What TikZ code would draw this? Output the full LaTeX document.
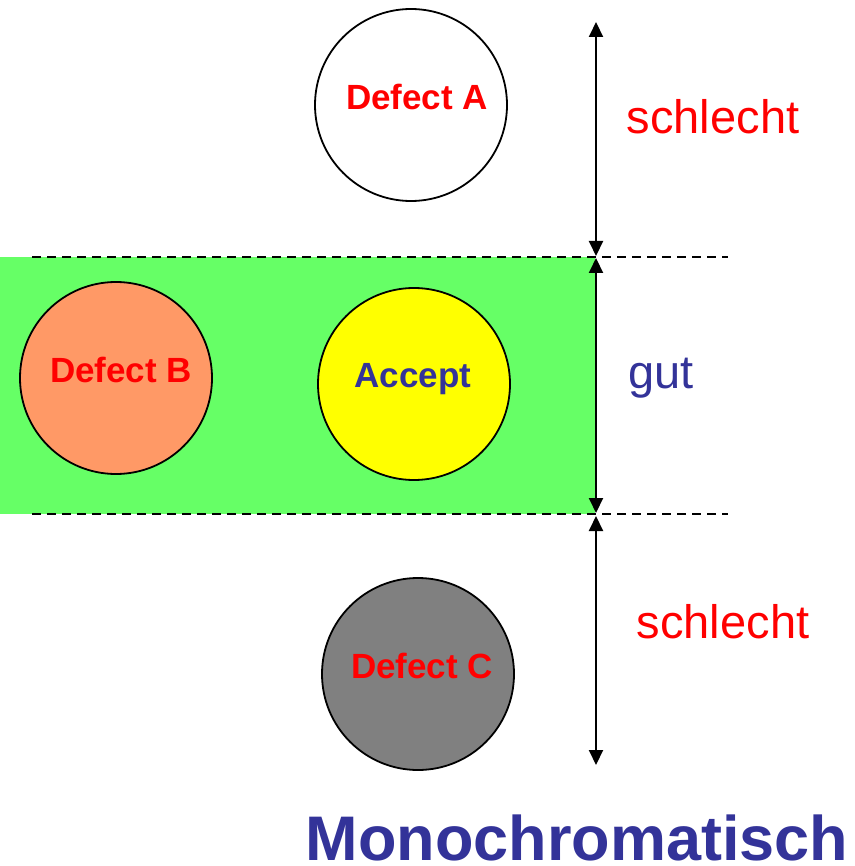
\documentclass[tikz,border=0pt]{standalone}
\usepackage{fontspec}
\setmainfont{Liberation Sans}
\usepackage{xcolor}
\usetikzlibrary{arrows.meta}

\definecolor{okgreen}{HTML}{66FF66}
\definecolor{salmon}{HTML}{FF9966}
\definecolor{navy}{HTML}{333399}
\definecolor{midgray}{HTML}{808080}
\definecolor{pureyellow}{HTML}{FFFF00}

\begin{document}
\begin{tikzpicture}[x=1pt,y=-1pt,
    defect/.style={circle,draw=black,line width=1.8pt,minimum size=192pt,inner sep=0pt},
    tag/.style={anchor=base,font=\fontsize{35}{40}\selectfont\bfseries},
    verdict/.style={anchor=base,font=\fontsize{47}{52}\selectfont},
    span/.style={line width=2pt,{Triangle[length=15pt,width=14pt]}-{Triangle[length=15pt,width=14pt]}},
    limit/.style={line width=1.5pt,dash pattern=on 9pt off 6pt}]
        \useasboundingbox (0,0) rectangle (854,866);
        % accepted band
        \fill[okgreen] (0,257) rectangle (595,514);
        \draw[limit] (32,257) -- (728,257);
        \draw[limit] (32,514) -- (728,514);

        \node[defect,fill=white] (defA) at (411,105) {};
        \node[defect,fill=salmon] (defB) at (116,378) {};
        \node[defect,fill=pureyellow] (accept) at (414,384) {};
        \node[defect,fill=midgray] (defC) at (418,674) {};

        \node[tag,red] (labA) at (417,110) {Defect A};
        \node[tag,red] (labB) at (121,382) {Defect B};
        \node[tag,navy] (labAcc) at (413,387) {Accept};
        \node[tag,red] (labC) at (422,678) {Defect C};

        % tolerance arrows
        \coordinate (t1) at (596,22);
        \coordinate (b1) at (596,256);
        \coordinate (t2) at (596,258);
        \coordinate (b2) at (596,513);
        \coordinate (t3) at (596,516);
        \coordinate (b3) at (596,765);
        \draw[span] (t1) -- (b1);
        \draw[span] (t2) -- (b2);
        \draw[span] (t3) -- (b3);

        \node[verdict,red] (bad1) at (713,134) {schlecht};
        \node[verdict,navy] (good) at (661,388) {gut};
        \node[verdict,red] (bad2) at (723,638) {schlecht};

        \node[anchor=base,inner sep=0pt,navy,font=\fontsize{63}{70}\selectfont\bfseries] (title) at (577,860) {Monochromatisch};
\end{tikzpicture}
\end{document}
